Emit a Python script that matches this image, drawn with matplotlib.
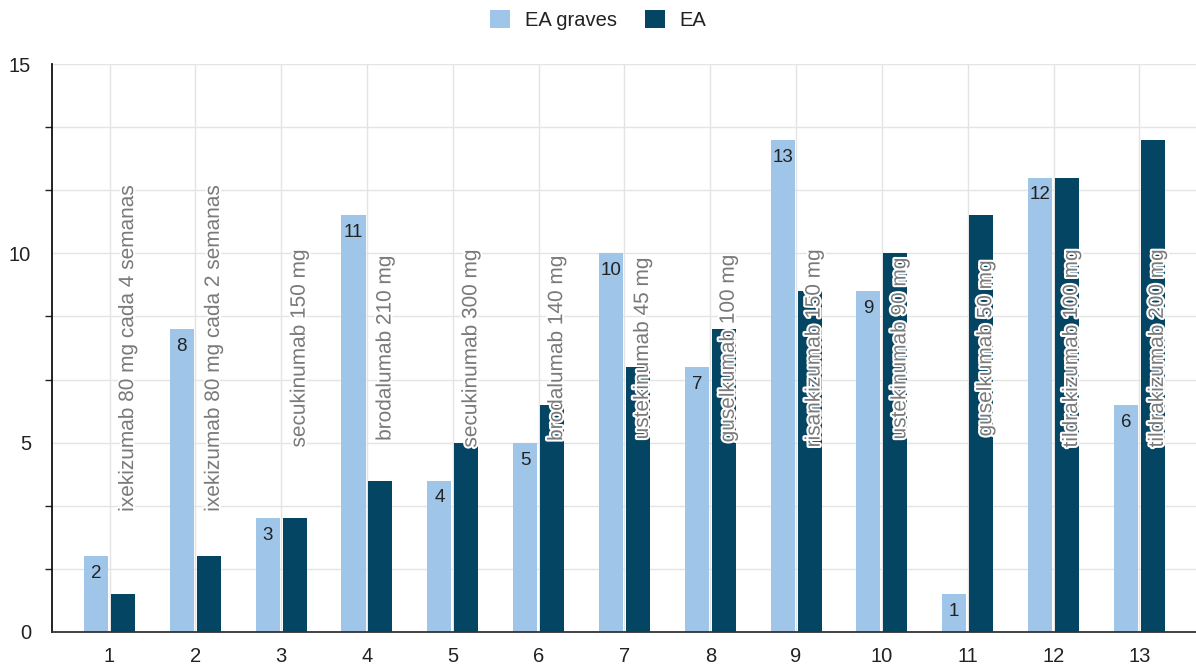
import numpy as np
import matplotlib
matplotlib.use('Agg')
import matplotlib.pyplot as plt
import matplotlib.transforms as mtransforms
from matplotlib import patheffects

plt.rcParams['font.family'] = ['Liberation Sans', 'DejaVu Sans']

# Data
categories = [1, 2, 3, 4, 5, 6, 7, 8, 9, 10, 11, 12, 13]
ea_graves = [2, 8, 3, 11, 4, 5, 10, 7, 13, 9, 1, 12, 6]
ea = [1, 2, 3, 4, 5, 6, 7, 8, 9, 10, 11, 12, 13]
drug_labels = [
    'ixekizumab 80 mg cada 4 semanas',
    'ixekizumab 80 mg cada 2 semanas',
    'secukinumab 150 mg',
    'brodalumab 210 mg',
    'secukinumab 300 mg',
    'brodalumab 140 mg',
    'ustekinumab 45 mg',
    'guselkumab 100 mg',
    'risankizumab 150 mg',
    'ustekinumab 90 mg',
    'guselkumab 50 mg',
    'tildrakizumab 100 mg',
    'tildrakizumab 200 mg',
]

light_color = '#9fc5e8'
dark_color = '#034563'
grid_color = '#e4e4e4'

fig = plt.figure(figsize=(11.96, 6.64), dpi=100)
ax = fig.add_axes([0.0435, 0.0482, 0.9565, 0.8554])

x = np.array(categories)
w = 0.28
off = 0.157

ax.bar(x - off, ea_graves, width=w, color=light_color, label='EA graves', zorder=3)
ax.bar(x + off, ea, width=w, color=dark_color, label='EA', zorder=3)

# value labels inside the light bars
for xi, v in zip(x, ea_graves):
    ax.annotate(str(v), (xi - off, v), xytext=(0, -12.5), textcoords='offset points',
                ha='center', va='center', fontsize=13.5, color='#222222', zorder=5)

# rotated drug names, centered vertically in the plot
trans = mtransforms.blended_transform_factory(ax.transData, ax.transAxes)
for xi, lab in zip(x, drug_labels):
    ax.text(xi + 0.21, 0.5, lab, transform=trans, rotation=90, ha='center', va='center',
            fontsize=15, color='#7a7a7a', zorder=6,
            path_effects=[patheffects.withStroke(linewidth=3, foreground='white')])

ax.set_xlim(0.33, 13.66)
ax.set_ylim(0, 15)
ax.set_xticks(categories)
ax.set_xticklabels([str(c) for c in categories])
ax.set_yticks([0, 5, 10, 15])
ax.set_yticks([i * 5 / 3 for i in range(10) if i % 3 != 0], minor=True)
ax.tick_params(axis='y', which='major', length=0, pad=15, labelsize=14.5, labelcolor='#222222')
ax.tick_params(axis='y', which='minor', length=5, width=1, color='#222222', direction='out')
ax.tick_params(axis='x', length=0, pad=11, labelsize=14.5, labelcolor='#222222')

ax.grid(True, axis='y', which='both', color=grid_color, linewidth=1, zorder=0)
ax.grid(True, axis='x', which='major', color=grid_color, linewidth=1, zorder=0)
ax.set_axisbelow(True)

for s in ['top', 'right']:
    ax.spines[s].set_visible(False)
ax.spines['left'].set_color('#111111')
ax.spines['left'].set_linewidth(1.3)
ax.spines['bottom'].set_color('#333333')
ax.spines['bottom'].set_linewidth(1.3)
ax.spines['left'].set_zorder(4)
ax.spines['bottom'].set_zorder(4)

fig.legend(loc='upper center', bbox_to_anchor=(0.5, 1.012), ncol=2, frameon=False,
           fontsize=14.5, handlelength=1.0, handleheight=1.0, handletextpad=0.7,
           columnspacing=1.4, labelcolor='#222222')

plt.savefig('out.png', dpi=100)
